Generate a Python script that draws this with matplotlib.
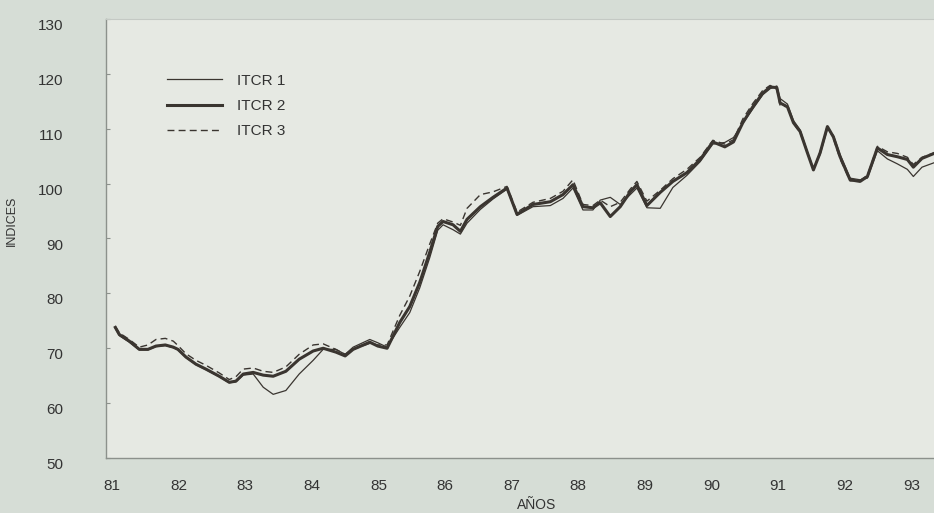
"""
Indices ITCR 1, 2 y 3 (1981-1993) — recreación del gráfico escaneado.
"""
import matplotlib
matplotlib.use('Agg')
import matplotlib.pyplot as plt
from matplotlib.transforms import ScaledTranslation

# --- Datos (año decimal, valor del índice) ---
years = [81.05, 81.11, 81.26, 81.41, 81.54, 81.66, 81.80, 81.92, 81.99, 82.11,
         82.26, 82.41, 82.61, 82.76, 82.86, 82.97, 83.12, 83.27, 83.42, 83.61,
         83.81, 84.02, 84.17, 84.36, 84.50, 84.62, 84.87, 84.99, 85.13, 85.32,
         85.47, 85.62, 85.77, 85.89, 85.97, 86.12, 86.23, 86.33, 86.53, 86.72,
         86.93, 87.08, 87.32, 87.58, 87.77, 87.92, 88.07, 88.22, 88.33, 88.48,
         88.63, 88.78, 88.88, 89.03, 89.23, 89.42, 89.63, 89.83, 90.02, 90.20,
         90.33, 90.47, 90.62, 90.77, 90.88, 90.98, 91.03, 91.14, 91.23, 91.33,
         91.44, 91.53, 91.63, 91.74, 91.83, 91.93, 92.08, 92.23, 92.34, 92.49,
         92.64, 92.79, 92.94, 93.03, 93.16, 93.34]

itcr2 = [73.8, 72.5, 71.3, 69.8, 69.8, 70.4, 70.6, 70.2, 69.8, 68.4,
         67.1, 66.2, 64.9, 63.8, 64.0, 65.3, 65.6, 65.1, 64.9, 65.8,
         68.0, 69.5, 70.0, 69.3, 68.6, 69.8, 71.1, 70.4, 70.0, 74.7,
         77.6, 82.0, 87.5, 92.2, 93.1, 92.5, 91.3, 93.5, 95.8, 97.5,
         99.2, 94.4, 96.2, 96.7, 98.0, 99.8, 95.8, 95.6, 96.5, 94.0,
         95.8, 98.5, 99.8, 96.0, 98.4, 100.4, 102.0, 104.4, 107.6, 106.7,
         107.6, 111.1, 114.0, 116.5, 117.6, 117.5, 114.7, 114.0, 111.1, 109.5,
         105.6, 102.5, 105.6, 110.4, 108.5, 104.9, 100.7, 100.4, 101.3, 106.5,
         105.3, 104.9, 104.4, 103.0, 104.6, 105.5]

itcr1 = [73.6, 72.3, 71.1, 69.7, 69.7, 70.3, 70.5, 70.1, 69.7, 68.3,
         67.0, 66.1, 64.8, 63.7, 63.9, 65.1, 65.3, 62.9, 61.6, 62.3,
         65.3, 67.8, 69.8, 69.8, 68.9, 70.2, 71.6, 71.0, 70.2, 73.8,
         76.5, 81.0, 86.5, 91.5, 92.5, 91.6, 90.8, 92.8, 95.3, 97.2,
         99.0, 94.2, 95.8, 96.0, 97.3, 99.2, 95.2, 95.2, 97.0, 97.5,
         96.2, 98.0, 99.2, 95.6, 95.5, 99.3, 101.5, 104.0, 107.2, 107.5,
         108.4, 111.0, 113.6, 116.2, 117.3, 117.8, 115.5, 114.5, 111.5, 109.8,
         105.8, 102.7, 105.3, 110.0, 108.8, 105.3, 101.0, 100.7, 101.0, 106.0,
         104.5, 103.6, 102.6, 101.3, 103.0, 103.8]

itcr3 = [74.0, 72.8, 71.6, 70.2, 70.6, 71.6, 71.8, 71.3, 70.5, 69.0,
         67.8, 66.9, 65.5, 64.3, 64.8, 66.2, 66.4, 65.8, 65.6, 66.6,
         68.9, 70.6, 70.8, 69.8, 68.9, 69.8, 70.9, 70.6, 70.6, 76.0,
         79.5, 84.0, 89.0, 92.8, 93.6, 93.0, 92.4, 95.5, 98.0, 98.5,
         99.5, 94.8, 96.6, 97.3, 98.6, 100.7, 96.2, 96.0, 97.0, 95.8,
         96.6, 99.0, 100.4, 96.8, 98.8, 100.9, 102.6, 104.8, 107.9, 107.2,
         108.0, 111.8, 114.6, 117.0, 117.9, 117.2, 114.2, 114.0, 111.0, 109.3,
         105.6, 102.5, 105.8, 110.6, 108.2, 104.5, 100.5, 100.6, 101.5, 106.8,
         105.8, 105.5, 104.8, 103.5, 104.8, 105.6]

x_ticks = list(range(81, 94))
y_ticks = list(range(50, 131, 10))

# --- Estilo ---
BG_OUT = '#d6ddd6'
BG_IN = '#e6e9e3'
INK = '#3a3530'
TEXT = '#333333'
SPINE = '#8c918c'

plt.rcParams['font.family'] = ['Liberation Sans', 'DejaVu Sans']

fig = plt.figure(figsize=(9.34, 5.13), dpi=100, facecolor=BG_OUT)
ax = fig.add_axes([106 / 934, 55 / 513, 828 / 934, 439 / 513])
ax.set_facecolor(BG_IN)

ax.plot(years, itcr1, color=INK, lw=0.9, label='ITCR 1')
ax.plot(years, itcr2, color=INK, lw=2.2, label='ITCR 2')
ax.plot(years, itcr3, color=INK, lw=1.0, dashes=(5, 3), label='ITCR 3')

ax.set_xlim(80.91, 93.34)
ax.set_ylim(50, 130)
ax.set_xticks(x_ticks)
ax.set_xticklabels([str(v) for v in x_ticks])
ax.set_yticks(y_ticks)

ax.tick_params(axis='x', length=0, pad=15, labelsize=11, labelcolor=TEXT)
ax.tick_params(axis='y', direction='in', length=3, width=0.8, color=SPINE,
               pad=31, labelsize=11, labelcolor=TEXT)
# las etiquetas del eje Y están algo por debajo de sus marcas en el original
for label in ax.get_yticklabels():
    label.set_transform(label.get_transform() +
                        ScaledTranslation(0, -4 / 72, fig.dpi_scale_trans))

for side in ['left', 'bottom']:
    ax.spines[side].set_color(SPINE)
    ax.spines[side].set_linewidth(1.0)
ax.spines['top'].set_color('#c4c9c4')
ax.spines['top'].set_linewidth(0.8)
ax.spines['right'].set_visible(False)

ax.set_ylabel('INDICES', fontsize=9, color=TEXT, labelpad=0)
ax.yaxis.set_label_coords(-88 / 828, 0.54)

# título del eje X, centrado bajo el "87"/"88" como en el original
fig.text(537 / 934, 1 - 505 / 513, 'AÑOS', fontsize=10, color=TEXT,
         ha='center', va='center')

ax.legend(loc='center left', bbox_to_anchor=(61 / 828, 352 / 439),
          frameon=False, fontsize=11, handlelength=3.6, handletextpad=1.0,
          labelspacing=0.75, borderpad=0, borderaxespad=0, labelcolor=TEXT)

fig.savefig('out.png', dpi=100, facecolor=BG_OUT)
